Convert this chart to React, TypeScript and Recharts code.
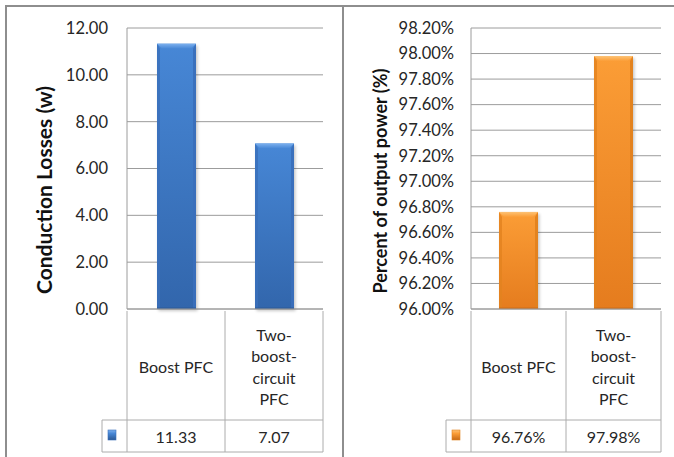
import { BarChart, Bar, XAxis, YAxis, CartesianGrid, Label } from "recharts";

// category labels, as wrapped in the data-table header cells
const categories = ["Boost PFC", "Two-boost-circuit PFC"];
const categoryLines = [["Boost PFC"], ["Two-", "boost-", "circuit", "PFC"]];

// conduction losses (W)
const lossValues = [11.33, 7.07];
const lossTicks = [0, 2, 4, 6, 8, 10, 12];

// percent of output power
const outputValues = [96.76, 97.98];
const outputTicks = [96, 96.2, 96.4, 96.6, 96.8, 97, 97.2, 97.4, 97.6, 97.8, 98, 98.2];

const FONT = "Lato, 'Open Sans', sans-serif";
const TEXT = "#262626";
const GRID = "#9c9c9c";
const TABLE_LINE = "#acacac";

type Palette = {
  key: string;
  top: string;
  bottom: string;
  bevel: string;
  side: string;
  base: string;
};

const BLUE: Palette = {
  key: "blue",
  top: "#4787d6",
  bottom: "#3266ac",
  bevel: "#7cb0ee",
  side: "#3a6fba",
  base: "#2b5894",
};

const ORANGE: Palette = {
  key: "orange",
  top: "#fb9d36",
  bottom: "#e57c1e",
  bevel: "#fdc275",
  side: "#e2821f",
  base: "#c76a16",
};

function BevelBar(props: any) {
  const { x, y, width, height, index, pal } = props;
  if (!width || !height || height <= 0) return null;
  const b = Math.min(5, height / 2);
  const s = 3;
  const id = `${pal.key}-${index}`;
  return (
    <g>
      <defs>
        <linearGradient id={`body-${id}`} x1="0" y1="0" x2="0" y2="1">
          <stop offset="0%" stopColor={pal.top} />
          <stop offset="100%" stopColor={pal.bottom} />
        </linearGradient>
        <linearGradient id={`cap-${id}`} x1="0" y1="0" x2="0" y2="1">
          <stop offset="0%" stopColor={pal.bevel} />
          <stop offset="100%" stopColor={pal.top} />
        </linearGradient>
        <filter id={`shadow-${id}`} x="-20%" y="-5%" width="140%" height="110%">
          <feGaussianBlur stdDeviation="1.6" />
        </filter>
      </defs>
      <rect x={x + 1.5} y={y + 2} width={width} height={height} fill="#000" opacity={0.22} filter={`url(#shadow-${id})`} />
      <rect x={x} y={y} width={width} height={height} fill={`url(#body-${id})`} />
      {/* side bevels */}
      <polygon points={`${x},${y} ${x + s},${y + b} ${x + s},${y + height - 1} ${x},${y + height}`} fill={pal.side} opacity={0.8} />
      <polygon points={`${x + width},${y} ${x + width - s},${y + b} ${x + width - s},${y + height - 1} ${x + width},${y + height}`} fill={pal.side} opacity={0.95} />
      {/* bottom edge */}
      <rect x={x} y={y + height - 1.5} width={width} height={1.5} fill={pal.base} opacity={0.8} />
      {/* top cap */}
      <polygon points={`${x},${y} ${x + width},${y} ${x + width - b},${y + b} ${x + b},${y + b}`} fill={`url(#cap-${id})`} />
    </g>
  );
}

const HEADER_H = 109;
const ROW_H = 32;
const STUB_W = 25;

function TableTick(props: any) {
  const { x = 0, y = 0, index = 0, values, half, pal } = props;
  const lines = categoryLines[index] || [];
  const first = index === 0;
  const left = x - half;
  const right = x + half;
  const stubLeft = left - STUB_W;
  const rowTop = y + HEADER_H;
  const rowBottom = rowTop + ROW_H;
  const rowMid = rowTop + ROW_H / 2;
  const headMid = y + HEADER_H / 2 + 1;
  const lineH = 21.5;
  const id = `mk-${pal.key}`;
  return (
    <g>
      {first && <line x1={left} y1={y} x2={left} y2={rowBottom} stroke={TABLE_LINE} />}
      <line x1={right} y1={y} x2={right} y2={rowBottom} stroke={TABLE_LINE} />
      <line x1={first ? stubLeft : left} y1={rowTop} x2={right} y2={rowTop} stroke={TABLE_LINE} />
      <line x1={first ? stubLeft : left} y1={rowBottom} x2={right} y2={rowBottom} stroke={TABLE_LINE} />
      {first && (
        <g>
          <line x1={stubLeft} y1={rowTop} x2={stubLeft} y2={rowBottom} stroke={TABLE_LINE} />
          <defs>
            <linearGradient id={id} x1="0" y1="0" x2="0" y2="1">
              <stop offset="0%" stopColor={pal.bevel} />
              <stop offset="35%" stopColor={pal.top} />
              <stop offset="100%" stopColor={pal.base} />
            </linearGradient>
          </defs>
          <rect x={stubLeft + 6} y={rowMid - 6} width={8} height={10} fill={`url(#${id})`} stroke={pal.side} strokeWidth={0.6} />
        </g>
      )}
      {lines.map((t: string, i: number) => (
        <text
          key={t}
          x={x}
          y={headMid + (i - (lines.length - 1) / 2) * lineH}
          textAnchor="middle"
          dominantBaseline="central"
          fontFamily={FONT}
          fontSize={16}
          fill={TEXT}
        >
          {t}
        </text>
      ))}
      <text x={x} y={rowMid} textAnchor="middle" dominantBaseline="central" fontFamily={FONT} fontSize={16} fill={TEXT}>
        {values[index]}
      </text>
    </g>
  );
}

const lossData = categories.map((name, i) => ({ name, value: lossValues[i] }));
const outputData = categories.map((name, i) => ({ name, value: outputValues[i] }));

function LossChart() {
  const width = 341;
  const yWidth = 127;
  const right = 18;
  const half = (width - yWidth - right) / categories.length / 2;
  return (
    <BarChart width={width} height={457} data={lossData} margin={{ top: 28, right, bottom: 7, left: 0 }} barSize={39}>
      <CartesianGrid vertical={false} stroke={GRID} />
      <XAxis
        dataKey="name"
        height={141}
        interval={0}
        tickLine={false}
        tickSize={0}
        stroke={GRID}
        tick={(p: any) => (
          <TableTick {...p} half={half} pal={BLUE} values={lossValues.map((v) => v.toFixed(2))} />
        )}
      />
      <YAxis
        width={yWidth}
        domain={[0, 12]}
        ticks={lossTicks}
        tickFormatter={(v: number) => v.toFixed(2)}
        tickLine={false}
        tickSize={0}
        tickMargin={19}
        stroke={GRID}
        tick={{ fill: TEXT, fontFamily: FONT, fontSize: 16.5 }}
      >
        <Label
          content={() => (
            <text
              transform="translate(43,190) rotate(-90)"
              textAnchor="middle"
              dominantBaseline="central"
              fontFamily={FONT}
              fontWeight="bold"
              fontSize={21}
              fill="#111"
            >
              Conduction Losses (w)
            </text>
          )}
        />
      </YAxis>
      <Bar dataKey="value" isAnimationActive={false} shape={(p: any) => <BevelBar {...p} pal={BLUE} />} />
    </BarChart>
  );
}

function OutputChart() {
  const width = 331;
  const yWidth = 128;
  const right = 13;
  const half = (width - yWidth - right) / categories.length / 2;
  return (
    <BarChart width={width} height={457} data={outputData} margin={{ top: 28, right, bottom: 7, left: 0 }} barSize={39}>
      <CartesianGrid vertical={false} stroke={GRID} />
      <XAxis
        dataKey="name"
        height={141}
        interval={0}
        tickLine={false}
        tickSize={0}
        stroke={GRID}
        tick={(p: any) => (
          <TableTick {...p} half={half} pal={ORANGE} values={outputValues.map((v) => `${v.toFixed(2)}%`)} />
        )}
      />
      <YAxis
        width={yWidth}
        domain={[96, 98.2]}
        ticks={outputTicks}
        allowDataOverflow
        tickFormatter={(v: number) => `${v.toFixed(2)}%`}
        tickLine={false}
        tickSize={0}
        tickMargin={17}
        stroke={GRID}
        tick={{ fill: TEXT, fontFamily: FONT, fontSize: 16.5 }}
      >
        <Label
          content={() => (
            <text
              transform="translate(37,181) rotate(-90)"
              textAnchor="middle"
              dominantBaseline="central"
              fontFamily={FONT}
              fontWeight="bold"
              fontSize={18}
              fill="#111"
            >
              Percent of output power (%)
            </text>
          )}
        />
      </YAxis>
      <Bar dataKey="value" isAnimationActive={false} shape={(p: any) => <BevelBar {...p} pal={ORANGE} />} />
    </BarChart>
  );
}

export default function App() {
  return (
    <div style={{ position: "absolute", left: 0, top: 0, width: 674, height: 457, background: "#fff", overflow: "hidden" }}>
      {/* panel frames */}
      <div style={{ position: "absolute", left: 5, top: 5, width: 335, height: 470, border: "2px solid #8e8e8e", borderBottom: "none" }} />
      <div style={{ position: "absolute", left: 342, top: 5, width: 360, height: 470, border: "2px solid #8e8e8e", borderBottom: "none" }} />
      <div style={{ position: "absolute", left: 0, top: 0 }}>
        <LossChart />
      </div>
      <div style={{ position: "absolute", left: 343, top: 0 }}>
        <OutputChart />
      </div>
    </div>
  );
}
